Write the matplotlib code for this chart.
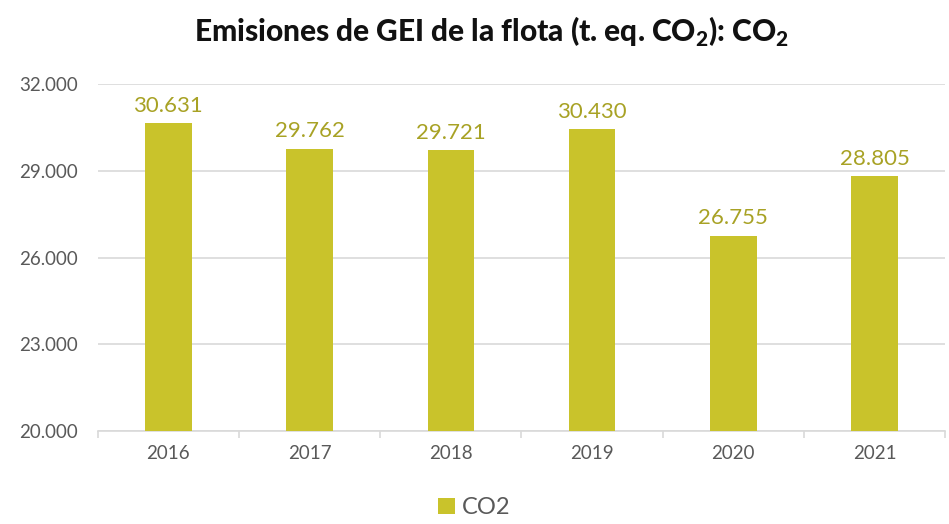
import matplotlib
matplotlib.use("Agg")
import matplotlib.pyplot as plt
import numpy as np

years = ["2016", "2017", "2018", "2019", "2020", "2021"]
co2 = [30631, 29762, 29721, 30430, 26755, 28805]
labels = ["30.631", "29.762", "29.721", "30.430", "26.755", "28.805"]
yticks = [20000, 23000, 26000, 29000, 32000]
ytick_labels = ["20.000", "23.000", "26.000", "29.000", "32.000"]

plt.rcParams['font.family'] = ['Lato', 'DejaVu Sans']
plt.rcParams['mathtext.fontset'] = 'custom'
plt.rcParams['mathtext.rm'] = 'Lato'
plt.rcParams['mathtext.bf'] = 'Lato:black'

bar_color = "#C9C32B"
text_gray = "#595959"

fig = plt.figure(figsize=(9.49, 5.24), dpi=100)
ax = fig.add_axes([0.103, 0.177, 0.893, 0.663])

x = np.arange(len(years))
ax.bar(x, co2, width=0.33, color=bar_color, label="CO2", zorder=3)

for xi, v, lab in zip(x, co2, labels):
    ax.text(xi, v + 250, lab, ha="center", va="bottom", fontsize=16, color="#A8A225")

ax.set_ylim(20000, 32000)
ax.set_xlim(-0.5, len(years) - 0.5)
ax.set_yticks(yticks)
ax.set_yticklabels(ytick_labels, fontsize=13.5, color=text_gray)
ax.set_xticks(x)
ax.set_xticklabels(years, fontsize=13.5, color=text_gray)
ax.tick_params(axis="y", length=0, pad=14)
ax.tick_params(axis="x", length=0, pad=10)
# small separators between categories
ax.set_xticks(np.arange(-0.5, len(years), 1.0), minor=True)
ax.tick_params(axis="x", which="minor", length=5, color="#D9D9D9", width=1.2)

ax.grid(axis="y", color="#D9D9D9", linewidth=1.2, zorder=0)
for s in ["top", "right", "left"]:
    ax.spines[s].set_visible(False)
ax.spines["bottom"].set_color("#D9D9D9")
ax.spines["bottom"].set_linewidth(1.2)

fig.suptitle(r"Emisiones de GEI de la flota (t. eq. CO$_\mathbf{2}$): CO$_\mathbf{2}$",
             x=0.518, y=0.972, fontsize=21.5, fontweight="black", color="#111111")

fig.legend(loc="lower center", bbox_to_anchor=(0.5, -0.03), frameon=False,
           fontsize=17, handlelength=0.7, handleheight=0.7, handletextpad=0.3,
           labelcolor=text_gray)

fig.savefig("out.png", dpi=100)
